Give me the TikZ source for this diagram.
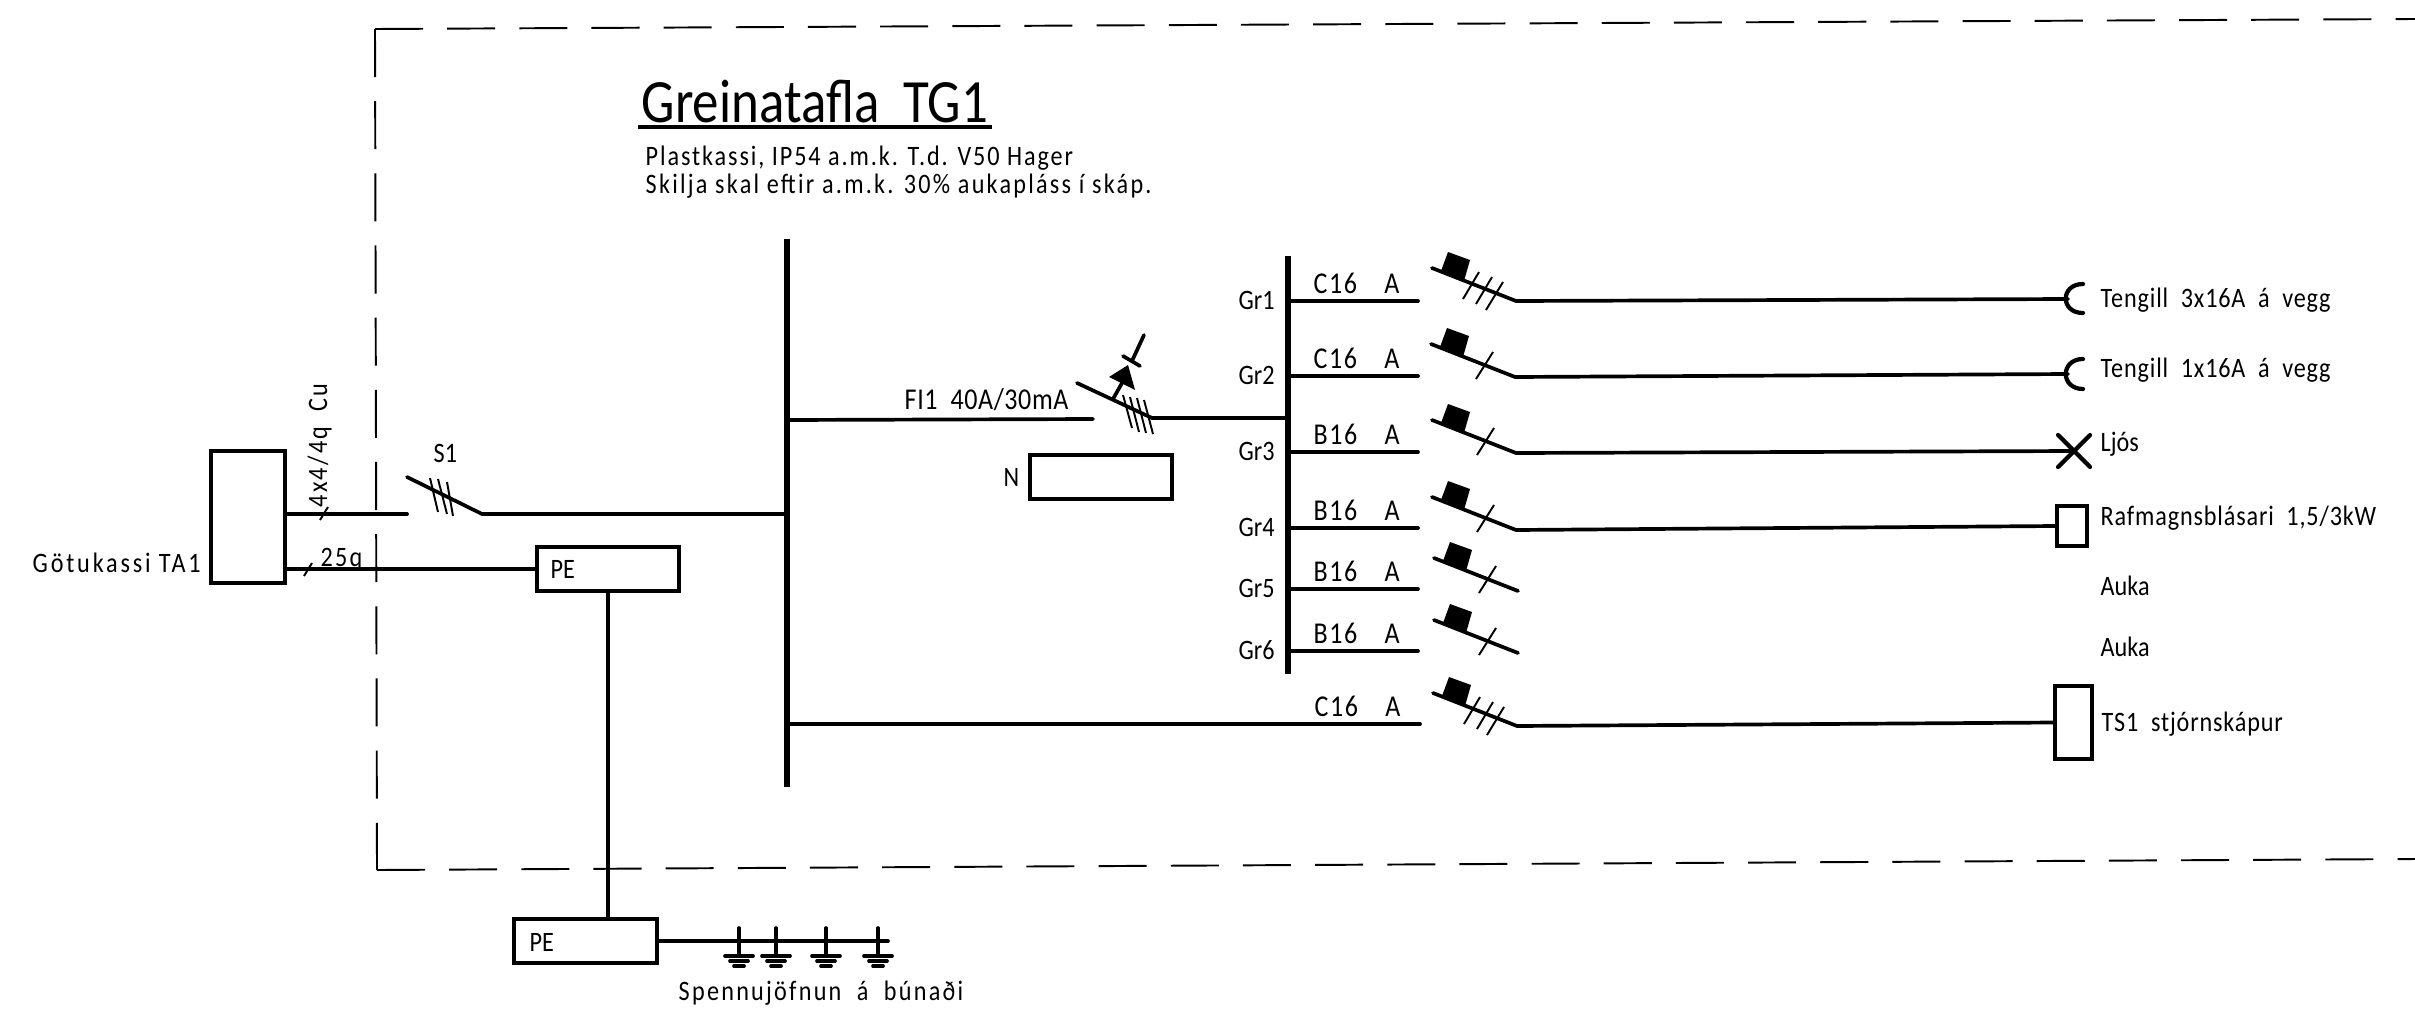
\documentclass[tikz,border=0pt]{standalone}
\usepackage{fontspec}
\setmainfont[FakeStretch=0.86]{Carlito}
\usetikzlibrary{positioning}
\tikzstyle{wire} = [line width=1.05pt, line cap=round]
\tikzstyle{bus} = [line width=1.9pt]
\tikzstyle{hair} = [line width=0.55pt]
\tikzstyle{frame} = [line width=0.55pt, dash pattern=on 13.66pt off 6.86pt]
\tikzstyle{box} = [rectangle, draw=black, line width=1pt, inner sep=0pt]
\tikzstyle{lbl} = [anchor=base west, inner sep=0pt, font=\fontsize{8}{8}\selectfont]
\tikzstyle{lblwide} = [lbl, font=\fontsize{8}{8}\selectfont\addfontfeature{LetterSpace=8}]
\tikzstyle{lblmid} = [lbl, font=\fontsize{8}{8}\selectfont\addfontfeature{LetterSpace=3}]
\tikzstyle{rating} = [lbl, font=\fontsize{8.6}{8.6}\selectfont\addfontfeature{LetterSpace=5}]

\begin{document}
\begin{tikzpicture}[x=0.01cm, y=-0.01cm]
\useasboundingbox (0,0) rectangle (2415,1012);

% frame
\coordinate (frameA) at (2415,19);
\coordinate (frameB) at (375,29);
\coordinate (frameC) at (377,870);
\coordinate (frameD) at (2415,859);
\draw [frame] (frameB) -- (frameA);
\draw [frame] (frameB) -- (frameC);
\draw [frame] (frameC) -- (frameD);

% title
\node (title) [lbl, font=\fontsize{17.5}{17.5}\selectfont] at (641,122) {Greinatafla~~TG1};
\coordinate (ulA) at (638,127);
\coordinate (ulB) at (992,127);
\node (noteA) [lbl, font=\fontsize{8}{8}\selectfont\addfontfeature{LetterSpace=6.8}] at (645,165) {Plastkassi, IP54 a.m.k. T.d. V50 Hager};
\node (noteB) [lblwide] at (645,193) {Skilja skal eftir a.m.k. 30\% aukapláss í skáp.};

% boxes
\node (ta) [box, minimum width=0.74cm, minimum height=1.32cm] at (248,517) {};
\node (peA) [box, minimum width=1.42cm, minimum height=0.44cm] at (608,569) {};
\node (peB) [box, minimum width=1.43cm, minimum height=0.44cm] at (585.5,941) {};
\node (nbox) [box, minimum width=1.42cm, minimum height=0.44cm] at (1101,477) {};
\node (blower) [box, minimum width=0.30cm, minimum height=0.40cm] at (2072,526) {};
\node (ts) [box, minimum width=0.37cm, minimum height=0.73cm] at (2073.5,722.5) {};

\node (taLbl) [lbl, font=\fontsize{8}{8}\selectfont\addfontfeature{LetterSpace=10}] at (32,572) {Götukassi TA1};
\node (cable) [lblwide, rotate=90] at (327,508) {4x4/4q~~Cu};
\node (pe25) [lblwide] at (320,566) {25q};
\node (sOne) [lbl] at (433,462) {S1};
\node (peAl) [lbl] at (550,578) {PE};
\node (peBl) [lbl] at (529,951) {PE};
\node (nLbl) [lbl] at (1003,486) {N};
\node (fiLbl) [rating, font=\fontsize{8.6}{8.6}\selectfont\addfontfeature{LetterSpace=2}] at (904,409) {FI1~~40A/30mA};
\node (spLbl) [lblwide] at (678,1000) {Spennujöfnun~~á~~búnaði};

% bars
\coordinate (mainA) at (787,239);
\coordinate (mainB) at (787,787);
\coordinate (barA) at (1288,256);
\coordinate (barB) at (1288,674);
\draw [bus] (mainA) -- (mainB);
\draw [bus] (barA) -- (barB);
\draw [line width=1.1pt] (ulA) -- (ulB);

% incoming side
\coordinate (sIn) at (407,514);
\coordinate (sArm) at (407,477);
\coordinate (sOut) at (482,514);
\coordinate (mainS) at (787,514);
\draw [wire] (ta.east |- sIn) -- (sIn);
\draw [wire] (sArm) -- (sOut) -- (mainS);
\draw [wire] (ta.east |- peA) -- (peA.west);
\draw [wire] (peA.south) -- (peA.south |- peB.north);
\draw [hair] (328,507) -- (320,520);
\draw [hair] (312,563) -- (304,576);
\draw [hair] (430,478) -- (438,512);
\draw [hair] (438,479) -- (447,514);
\draw [hair] (447,482) -- (453,516);

% earth bar
\coordinate (earthEnd) at (888,941);
\draw [wire] (peB.east) -- (earthEnd);
\foreach \x in {739,776,826,878} {
  \draw [wire] (\x,928) -- (\x,956);
  \draw [wire] (\x-14,956) -- (\x+14,956);
  \draw [wire] (\x-9,961) -- (\x+9,961);
  \draw [wire] (\x-5,966) -- (\x+5,966);
}

% earth leakage breaker
\coordinate (fiIn) at (1093,419);
\coordinate (fiArm) at (1077,383);
\coordinate (fiOut) at (1152,418);
\coordinate (barF) at (1288,418);
\coordinate (mainF) at (787,420);
\draw [wire] (mainF) -- (fiIn);
\draw [wire] (fiArm) -- (fiOut) -- (barF);
\draw [hair] (1123,395) -- (1132,428);
\draw [hair] (1130,397) -- (1139,432);
\draw [hair] (1137,398) -- (1146,433);
\draw [hair] (1144,400) -- (1153,434);
\draw [wire] (1113,399) -- (1122,383);
\fill (1128,365) -- (1109,377) -- (1135,390) -- cycle;
\draw [wire] (1123,356) -- (1140,366);
\draw [wire] (1132,361) -- (1144,335);

% outgoing groups
\foreach \n/\y/\gr/\rate in {a/301/Gr1/C16, b/376/Gr2/C16, c/452/Gr3/B16, d/528/Gr4/B16, e/589/Gr5/B16, f/651/Gr6/B16} {
  \coordinate (stub\n) at (1418,\y);
  \draw [wire] (barA |- stub\n) -- (stub\n);
  \node (gr\n) [lbl] at (1238,\y+8) {\gr};
  \node (rate\n) [rating] at (1313,\y-8) {\rate~~\hspace{3.6pt}A};
}
\coordinate (stubg) at (1420,724);
\draw [wire] (mainA |- stubg) -- (stubg);
\node (rateg) [rating] at (1314,716) {C16~~\hspace{3.6pt}A};

% breakers
\foreach \n/\x/\y/\poles in {a/1516/301/3, b/1515/377/1, c/1516/453/1, d/1516/530/1, e/1518/591/1, f/1518/653/1, g/1517/726/3} {
  \coordinate (brk\n) at (\x,\y);
  \begin{scope}[shift={(brk\n)}]
    \draw [wire] (-84,-33) -- (0,0);
    \fill (-68,-49) -- (-46,-41) -- (-52,-20) -- (-75,-30) -- cycle;
    \ifnum\poles=1
      \draw [hair] (-22,-25) -- (-39,2);
    \else
      \draw [hair] (-37,-29) -- (-53,-2);
      \draw [hair] (-24,-24) -- (-40,3);
      \draw [hair] (-13,-19) -- (-30,9);
    \fi
  \end{scope}
}

% loads
\coordinate (sockA) at (2068,299);
\coordinate (sockB) at (2068,374);
\coordinate (lamp) at (2074,451);
\draw [wire] (brka) -- (sockA);
\draw [wire] (brkb) -- (sockB);
\draw [wire] (brkc) -- (lamp);
\draw [wire] (brkd) -- (blower.west);
\draw [wire] (brkg) -- (ts.west);
\draw [line width=1.2pt, line cap=round] (2083,284) .. controls (2060,284) and (2060,313) .. (2083,313);
\draw [line width=1.2pt, line cap=round] (2083,359) .. controls (2060,359) and (2060,389) .. (2083,389);
\draw [line width=1.2pt, line cap=round] (2058,435) -- (2090,467);
\draw [line width=1.2pt, line cap=round] (2058,467) -- (2090,435);

\node (loadA) [lblmid] at (2100,307) {Tengill~~3x16A~~á~~vegg};
\node (loadB) [lblmid] at (2100,377) {Tengill~~1x16A~~á~~vegg};
\node (loadC) [lbl] at (2100,451) {Ljós};
\node (loadD) [lblmid] at (2100,525) {Rafmagnsblásari~~1,5/3kW};
\node (loadE) [lbl] at (2100,595) {Auka};
\node (loadF) [lbl] at (2100,656) {Auka};
\node (loadG) [lblmid] at (2101,731) {TS1~~stjórnskápur};

\end{tikzpicture}
\end{document}
